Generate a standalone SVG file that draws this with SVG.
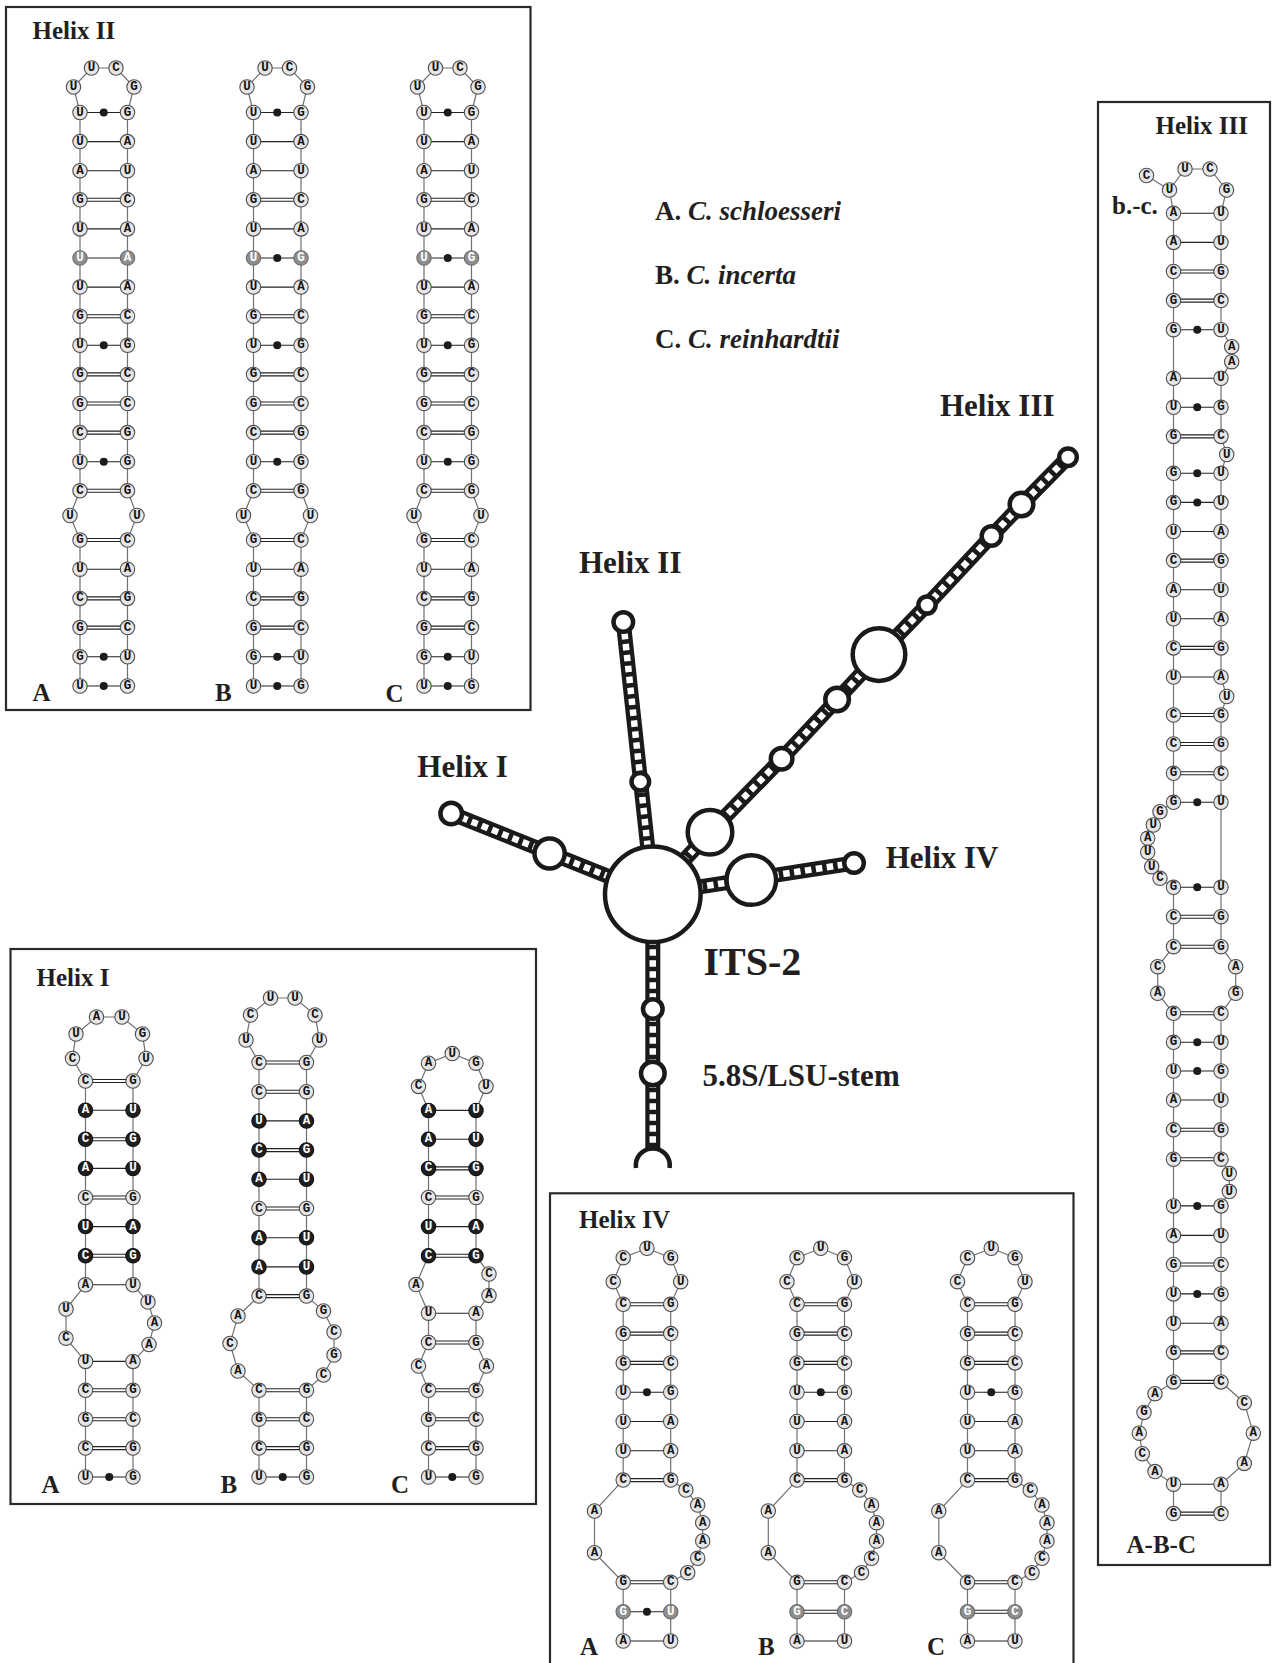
<svg xmlns="http://www.w3.org/2000/svg" width="1287" height="1663" viewBox="0 0 1287 1663">
<style>
.frame{fill:none;stroke:#2a2a2a;stroke-width:2.2}
.lbl{font-family:"Liberation Serif","Times New Roman",serif;font-weight:bold;fill:#231f20}
.f25{font-size:25px}.f31{font-size:31px}.f27{font-size:27px}.f40{font-size:40px}
.it{font-style:italic}
.bb{fill:none;stroke:#707070;stroke-width:1.2}
.bp{fill:none;stroke:#222;stroke-width:1.1}
.nt circle{fill:#e6e6e6;stroke:#4d4d4d;stroke-width:1.1}
.nt text{font-family:"Liberation Mono","Courier New",monospace;font-weight:bold;font-size:12.5px;text-anchor:middle;dominant-baseline:central;fill:#111}
.nt circle.g{fill:#8f8f8f;stroke:#6b6b6b}
.nt text.g{fill:#fff}
.nt circle.k{fill:#1f1f1f;stroke:#111}
.nt text.k{fill:#fff}
.nt .dot{fill:#1c1c1c;stroke:none}
.rail{fill:none;stroke:#1a1a1a;stroke-width:15}
.rung{fill:none;stroke:#fff;stroke-width:6.5;stroke-dasharray:6.5 4.5}
.loop{fill:#fff;stroke:#1a1a1a;stroke-width:4.5}
</style>
<rect width="1287" height="1663" fill="#fff"/>

<!-- ===== Helix II panel ===== -->
<g id="panel-helix2">
<rect class="frame" x="6" y="7" width="524.5" height="703"/>
<text class="lbl f25" x="32.5" y="39">Helix II</text>
<text class="lbl f25" x="32.5" y="701">A</text>
<text class="lbl f25" x="215" y="701">B</text>
<text class="lbl f25" x="385.5" y="701.5">C</text>

<g id="helix2-a" class="nt" transform="translate(80 0)">
<path class="bb" d="M0 686V540L-10 515.5L0 490.8V112.5L-6.5 87L11.5 68H36L54 87L47.5 112.5V490.8L57 515.5L47.5 540V686"/>
<path class="bp" d="M0 112.5H47.5M0 141.6H47.5M0 170.7H47.5M0 228.9H47.5M0 258H47.5M0 287.1H47.5M0 345.3H47.5M0 461.7H47.5M0 569.2H47.5M0 656.8H47.5M0 686H47.5"/>
<path class="bp" d="M0 198.3H47.5M0 201.3H47.5M0 314.7H47.5M0 317.7H47.5M0 372.9H47.5M0 375.9H47.5M0 402H47.5M0 405H47.5M0 431.1H47.5M0 434.1H47.5M0 489.3H47.5M0 492.3H47.5M0 538.5H47.5M0 541.5H47.5M0 596.9H47.5M0 599.9H47.5M0 626.1H47.5M0 629.1H47.5"/>
<circle class="dot" cx="23.75" cy="112.5" r="4"/><circle class="dot" cx="23.75" cy="345.3" r="4"/><circle class="dot" cx="23.75" cy="461.7" r="4"/><circle class="dot" cx="23.75" cy="656.8" r="4"/><circle class="dot" cx="23.75" cy="686" r="4"/>
<circle cx="-6.5" cy="87" r="7.2"/><text x="-6.5" y="87">U</text>
<circle cx="11.5" cy="68" r="7.2"/><text x="11.5" y="68">U</text>
<circle cx="36" cy="68" r="7.2"/><text x="36" y="68">C</text>
<circle cx="54" cy="87" r="7.2"/><text x="54" y="87">G</text>
<circle cx="0" cy="112.5" r="7.2"/><text x="0" y="112.5">U</text><circle cx="47.5" cy="112.5" r="7.2"/><text x="47.5" y="112.5">G</text>
<circle cx="0" cy="141.6" r="7.2"/><text x="0" y="141.6">U</text><circle cx="47.5" cy="141.6" r="7.2"/><text x="47.5" y="141.6">A</text>
<circle cx="0" cy="170.7" r="7.2"/><text x="0" y="170.7">A</text><circle cx="47.5" cy="170.7" r="7.2"/><text x="47.5" y="170.7">U</text>
<circle cx="0" cy="199.8" r="7.2"/><text x="0" y="199.8">G</text><circle cx="47.5" cy="199.8" r="7.2"/><text x="47.5" y="199.8">C</text>
<circle cx="0" cy="228.9" r="7.2"/><text x="0" y="228.9">U</text><circle cx="47.5" cy="228.9" r="7.2"/><text x="47.5" y="228.9">A</text>
<circle class="g" cx="0" cy="258" r="7.2"/><text class="g" x="0" y="258">U</text><circle class="g" cx="47.5" cy="258" r="7.2"/><text class="g" x="47.5" y="258">A</text>
<circle cx="0" cy="287.1" r="7.2"/><text x="0" y="287.1">U</text><circle cx="47.5" cy="287.1" r="7.2"/><text x="47.5" y="287.1">A</text>
<circle cx="0" cy="316.2" r="7.2"/><text x="0" y="316.2">G</text><circle cx="47.5" cy="316.2" r="7.2"/><text x="47.5" y="316.2">C</text>
<circle cx="0" cy="345.3" r="7.2"/><text x="0" y="345.3">U</text><circle cx="47.5" cy="345.3" r="7.2"/><text x="47.5" y="345.3">G</text>
<circle cx="0" cy="374.4" r="7.2"/><text x="0" y="374.4">G</text><circle cx="47.5" cy="374.4" r="7.2"/><text x="47.5" y="374.4">C</text>
<circle cx="0" cy="403.5" r="7.2"/><text x="0" y="403.5">G</text><circle cx="47.5" cy="403.5" r="7.2"/><text x="47.5" y="403.5">C</text>
<circle cx="0" cy="432.6" r="7.2"/><text x="0" y="432.6">C</text><circle cx="47.5" cy="432.6" r="7.2"/><text x="47.5" y="432.6">G</text>
<circle cx="0" cy="461.7" r="7.2"/><text x="0" y="461.7">U</text><circle cx="47.5" cy="461.7" r="7.2"/><text x="47.5" y="461.7">G</text>
<circle cx="0" cy="490.8" r="7.2"/><text x="0" y="490.8">C</text><circle cx="47.5" cy="490.8" r="7.2"/><text x="47.5" y="490.8">G</text>
<circle cx="-10" cy="515.5" r="7.2"/><text x="-10" y="515.5">U</text><circle cx="57" cy="515.5" r="7.2"/><text x="57" y="515.5">U</text>
<circle cx="0" cy="540" r="7.2"/><text x="0" y="540">G</text><circle cx="47.5" cy="540" r="7.2"/><text x="47.5" y="540">C</text>
<circle cx="0" cy="569.2" r="7.2"/><text x="0" y="569.2">U</text><circle cx="47.5" cy="569.2" r="7.2"/><text x="47.5" y="569.2">A</text>
<circle cx="0" cy="598.4" r="7.2"/><text x="0" y="598.4">C</text><circle cx="47.5" cy="598.4" r="7.2"/><text x="47.5" y="598.4">G</text>
<circle cx="0" cy="627.6" r="7.2"/><text x="0" y="627.6">G</text><circle cx="47.5" cy="627.6" r="7.2"/><text x="47.5" y="627.6">C</text>
<circle cx="0" cy="656.8" r="7.2"/><text x="0" y="656.8">G</text><circle cx="47.5" cy="656.8" r="7.2"/><text x="47.5" y="656.8">U</text>
<circle cx="0" cy="686" r="7.2"/><text x="0" y="686">U</text><circle cx="47.5" cy="686" r="7.2"/><text x="47.5" y="686">G</text>
</g>

<g id="helix2-b" class="nt" transform="translate(253.5 0)">
<path class="bb" d="M0 686V540L-10 515.5L0 490.8V112.5L-6.5 87L11.5 68H36L54 87L47.5 112.5V490.8L57 515.5L47.5 540V686"/>
<path class="bp" d="M0 112.5H47.5M0 141.6H47.5M0 170.7H47.5M0 228.9H47.5M0 258H47.5M0 287.1H47.5M0 345.3H47.5M0 461.7H47.5M0 569.2H47.5M0 656.8H47.5M0 686H47.5"/>
<path class="bp" d="M0 198.3H47.5M0 201.3H47.5M0 314.7H47.5M0 317.7H47.5M0 372.9H47.5M0 375.9H47.5M0 402H47.5M0 405H47.5M0 431.1H47.5M0 434.1H47.5M0 489.3H47.5M0 492.3H47.5M0 538.5H47.5M0 541.5H47.5M0 596.9H47.5M0 599.9H47.5M0 626.1H47.5M0 629.1H47.5"/>
<circle class="dot" cx="23.75" cy="112.5" r="4"/><circle class="dot" cx="23.75" cy="258" r="4"/><circle class="dot" cx="23.75" cy="345.3" r="4"/><circle class="dot" cx="23.75" cy="461.7" r="4"/><circle class="dot" cx="23.75" cy="656.8" r="4"/><circle class="dot" cx="23.75" cy="686" r="4"/>
<circle cx="-6.5" cy="87" r="7.2"/><text x="-6.5" y="87">U</text>
<circle cx="11.5" cy="68" r="7.2"/><text x="11.5" y="68">U</text>
<circle cx="36" cy="68" r="7.2"/><text x="36" y="68">C</text>
<circle cx="54" cy="87" r="7.2"/><text x="54" y="87">G</text>
<circle cx="0" cy="112.5" r="7.2"/><text x="0" y="112.5">U</text><circle cx="47.5" cy="112.5" r="7.2"/><text x="47.5" y="112.5">G</text>
<circle cx="0" cy="141.6" r="7.2"/><text x="0" y="141.6">U</text><circle cx="47.5" cy="141.6" r="7.2"/><text x="47.5" y="141.6">A</text>
<circle cx="0" cy="170.7" r="7.2"/><text x="0" y="170.7">A</text><circle cx="47.5" cy="170.7" r="7.2"/><text x="47.5" y="170.7">U</text>
<circle cx="0" cy="199.8" r="7.2"/><text x="0" y="199.8">G</text><circle cx="47.5" cy="199.8" r="7.2"/><text x="47.5" y="199.8">C</text>
<circle cx="0" cy="228.9" r="7.2"/><text x="0" y="228.9">U</text><circle cx="47.5" cy="228.9" r="7.2"/><text x="47.5" y="228.9">A</text>
<circle class="g" cx="0" cy="258" r="7.2"/><text class="g" x="0" y="258">U</text><circle class="g" cx="47.5" cy="258" r="7.2"/><text class="g" x="47.5" y="258">G</text>
<circle cx="0" cy="287.1" r="7.2"/><text x="0" y="287.1">U</text><circle cx="47.5" cy="287.1" r="7.2"/><text x="47.5" y="287.1">A</text>
<circle cx="0" cy="316.2" r="7.2"/><text x="0" y="316.2">G</text><circle cx="47.5" cy="316.2" r="7.2"/><text x="47.5" y="316.2">C</text>
<circle cx="0" cy="345.3" r="7.2"/><text x="0" y="345.3">U</text><circle cx="47.5" cy="345.3" r="7.2"/><text x="47.5" y="345.3">G</text>
<circle cx="0" cy="374.4" r="7.2"/><text x="0" y="374.4">G</text><circle cx="47.5" cy="374.4" r="7.2"/><text x="47.5" y="374.4">C</text>
<circle cx="0" cy="403.5" r="7.2"/><text x="0" y="403.5">G</text><circle cx="47.5" cy="403.5" r="7.2"/><text x="47.5" y="403.5">C</text>
<circle cx="0" cy="432.6" r="7.2"/><text x="0" y="432.6">C</text><circle cx="47.5" cy="432.6" r="7.2"/><text x="47.5" y="432.6">G</text>
<circle cx="0" cy="461.7" r="7.2"/><text x="0" y="461.7">U</text><circle cx="47.5" cy="461.7" r="7.2"/><text x="47.5" y="461.7">G</text>
<circle cx="0" cy="490.8" r="7.2"/><text x="0" y="490.8">C</text><circle cx="47.5" cy="490.8" r="7.2"/><text x="47.5" y="490.8">G</text>
<circle cx="-10" cy="515.5" r="7.2"/><text x="-10" y="515.5">U</text><circle cx="57" cy="515.5" r="7.2"/><text x="57" y="515.5">U</text>
<circle cx="0" cy="540" r="7.2"/><text x="0" y="540">G</text><circle cx="47.5" cy="540" r="7.2"/><text x="47.5" y="540">C</text>
<circle cx="0" cy="569.2" r="7.2"/><text x="0" y="569.2">U</text><circle cx="47.5" cy="569.2" r="7.2"/><text x="47.5" y="569.2">A</text>
<circle cx="0" cy="598.4" r="7.2"/><text x="0" y="598.4">C</text><circle cx="47.5" cy="598.4" r="7.2"/><text x="47.5" y="598.4">G</text>
<circle cx="0" cy="627.6" r="7.2"/><text x="0" y="627.6">G</text><circle cx="47.5" cy="627.6" r="7.2"/><text x="47.5" y="627.6">C</text>
<circle cx="0" cy="656.8" r="7.2"/><text x="0" y="656.8">G</text><circle cx="47.5" cy="656.8" r="7.2"/><text x="47.5" y="656.8">U</text>
<circle cx="0" cy="686" r="7.2"/><text x="0" y="686">U</text><circle cx="47.5" cy="686" r="7.2"/><text x="47.5" y="686">G</text>
</g>

<g id="helix2-c" class="nt" transform="translate(424 0)">
<path class="bb" d="M0 686V540L-10 515.5L0 490.8V112.5L-6.5 87L11.5 68H36L54 87L47.5 112.5V490.8L57 515.5L47.5 540V686"/>
<path class="bp" d="M0 112.5H47.5M0 141.6H47.5M0 170.7H47.5M0 228.9H47.5M0 258H47.5M0 287.1H47.5M0 345.3H47.5M0 461.7H47.5M0 569.2H47.5M0 656.8H47.5M0 686H47.5"/>
<path class="bp" d="M0 198.3H47.5M0 201.3H47.5M0 314.7H47.5M0 317.7H47.5M0 372.9H47.5M0 375.9H47.5M0 402H47.5M0 405H47.5M0 431.1H47.5M0 434.1H47.5M0 489.3H47.5M0 492.3H47.5M0 538.5H47.5M0 541.5H47.5M0 596.9H47.5M0 599.9H47.5M0 626.1H47.5M0 629.1H47.5"/>
<circle class="dot" cx="23.75" cy="112.5" r="4"/><circle class="dot" cx="23.75" cy="258" r="4"/><circle class="dot" cx="23.75" cy="345.3" r="4"/><circle class="dot" cx="23.75" cy="461.7" r="4"/><circle class="dot" cx="23.75" cy="656.8" r="4"/><circle class="dot" cx="23.75" cy="686" r="4"/>
<circle cx="-6.5" cy="87" r="7.2"/><text x="-6.5" y="87">U</text>
<circle cx="11.5" cy="68" r="7.2"/><text x="11.5" y="68">U</text>
<circle cx="36" cy="68" r="7.2"/><text x="36" y="68">C</text>
<circle cx="54" cy="87" r="7.2"/><text x="54" y="87">G</text>
<circle cx="0" cy="112.5" r="7.2"/><text x="0" y="112.5">U</text><circle cx="47.5" cy="112.5" r="7.2"/><text x="47.5" y="112.5">G</text>
<circle cx="0" cy="141.6" r="7.2"/><text x="0" y="141.6">U</text><circle cx="47.5" cy="141.6" r="7.2"/><text x="47.5" y="141.6">A</text>
<circle cx="0" cy="170.7" r="7.2"/><text x="0" y="170.7">A</text><circle cx="47.5" cy="170.7" r="7.2"/><text x="47.5" y="170.7">U</text>
<circle cx="0" cy="199.8" r="7.2"/><text x="0" y="199.8">G</text><circle cx="47.5" cy="199.8" r="7.2"/><text x="47.5" y="199.8">C</text>
<circle cx="0" cy="228.9" r="7.2"/><text x="0" y="228.9">U</text><circle cx="47.5" cy="228.9" r="7.2"/><text x="47.5" y="228.9">A</text>
<circle class="g" cx="0" cy="258" r="7.2"/><text class="g" x="0" y="258">U</text><circle class="g" cx="47.5" cy="258" r="7.2"/><text class="g" x="47.5" y="258">G</text>
<circle cx="0" cy="287.1" r="7.2"/><text x="0" y="287.1">U</text><circle cx="47.5" cy="287.1" r="7.2"/><text x="47.5" y="287.1">A</text>
<circle cx="0" cy="316.2" r="7.2"/><text x="0" y="316.2">G</text><circle cx="47.5" cy="316.2" r="7.2"/><text x="47.5" y="316.2">C</text>
<circle cx="0" cy="345.3" r="7.2"/><text x="0" y="345.3">U</text><circle cx="47.5" cy="345.3" r="7.2"/><text x="47.5" y="345.3">G</text>
<circle cx="0" cy="374.4" r="7.2"/><text x="0" y="374.4">G</text><circle cx="47.5" cy="374.4" r="7.2"/><text x="47.5" y="374.4">C</text>
<circle cx="0" cy="403.5" r="7.2"/><text x="0" y="403.5">G</text><circle cx="47.5" cy="403.5" r="7.2"/><text x="47.5" y="403.5">C</text>
<circle cx="0" cy="432.6" r="7.2"/><text x="0" y="432.6">C</text><circle cx="47.5" cy="432.6" r="7.2"/><text x="47.5" y="432.6">G</text>
<circle cx="0" cy="461.7" r="7.2"/><text x="0" y="461.7">U</text><circle cx="47.5" cy="461.7" r="7.2"/><text x="47.5" y="461.7">G</text>
<circle cx="0" cy="490.8" r="7.2"/><text x="0" y="490.8">C</text><circle cx="47.5" cy="490.8" r="7.2"/><text x="47.5" y="490.8">G</text>
<circle cx="-10" cy="515.5" r="7.2"/><text x="-10" y="515.5">U</text><circle cx="57" cy="515.5" r="7.2"/><text x="57" y="515.5">U</text>
<circle cx="0" cy="540" r="7.2"/><text x="0" y="540">G</text><circle cx="47.5" cy="540" r="7.2"/><text x="47.5" y="540">C</text>
<circle cx="0" cy="569.2" r="7.2"/><text x="0" y="569.2">U</text><circle cx="47.5" cy="569.2" r="7.2"/><text x="47.5" y="569.2">A</text>
<circle cx="0" cy="598.4" r="7.2"/><text x="0" y="598.4">C</text><circle cx="47.5" cy="598.4" r="7.2"/><text x="47.5" y="598.4">G</text>
<circle cx="0" cy="627.6" r="7.2"/><text x="0" y="627.6">G</text><circle cx="47.5" cy="627.6" r="7.2"/><text x="47.5" y="627.6">C</text>
<circle cx="0" cy="656.8" r="7.2"/><text x="0" y="656.8">G</text><circle cx="47.5" cy="656.8" r="7.2"/><text x="47.5" y="656.8">U</text>
<circle cx="0" cy="686" r="7.2"/><text x="0" y="686">U</text><circle cx="47.5" cy="686" r="7.2"/><text x="47.5" y="686">G</text>
</g>
</g>

<!-- ===== Helix I panel ===== -->
<g id="panel-helix1">
<rect class="frame" x="10.5" y="949" width="525.5" height="555"/>
<text class="lbl f25" x="36.5" y="986">Helix I</text>
<text class="lbl f25" x="41.5" y="1493">A</text>
<text class="lbl f25" x="220.5" y="1493">B</text>
<text class="lbl f25" x="391" y="1493">C</text>

<g id="helix1-a" class="nt" transform="translate(85.5 0)">
<path class="bb" d="M0 1477V1361.4L-19.5 1338.2V1309L0 1284.8V1081L-13 1058.5L-9.5 1034L11 1017H36.5L57 1034L60.5 1058.5L47.5 1081V1284.8L62.5 1302L69 1323L63.5 1344.5L47.5 1361.4V1477"/>
<path class="bp" d="M0 1110.2H47.5M0 1168.4H47.5M0 1226.6H47.5M0 1284.8H47.5M0 1361.4H47.5M0 1477H47.5"/>
<path class="bp" d="M0 1079.5H47.5M0 1082.5H47.5M0 1137.8H47.5M0 1140.8H47.5M0 1196H47.5M0 1199H47.5M0 1254.2H47.5M0 1257.2H47.5M0 1388.8H47.5M0 1391.8H47.5M0 1417.7H47.5M0 1420.7H47.5M0 1446.6H47.5M0 1449.6H47.5"/>
<circle class="dot" cx="23.75" cy="1477" r="4"/>
<circle cx="-13" cy="1058.5" r="7.2"/><text x="-13" y="1058.5">C</text>
<circle cx="-9.5" cy="1034" r="7.2"/><text x="-9.5" y="1034">U</text>
<circle cx="11" cy="1017" r="7.2"/><text x="11" y="1017">A</text>
<circle cx="36.5" cy="1017" r="7.2"/><text x="36.5" y="1017">U</text>
<circle cx="57" cy="1034" r="7.2"/><text x="57" y="1034">G</text>
<circle cx="60.5" cy="1058.5" r="7.2"/><text x="60.5" y="1058.5">U</text>
<circle cx="0" cy="1081" r="7.2"/><text x="0" y="1081">C</text><circle cx="47.5" cy="1081" r="7.2"/><text x="47.5" y="1081">G</text>
<circle class="k" cx="0" cy="1110.2" r="7.2"/><text class="k" x="0" y="1110.2">A</text><circle class="k" cx="47.5" cy="1110.2" r="7.2"/><text class="k" x="47.5" y="1110.2">U</text>
<circle class="k" cx="0" cy="1139.3" r="7.2"/><text class="k" x="0" y="1139.3">C</text><circle class="k" cx="47.5" cy="1139.3" r="7.2"/><text class="k" x="47.5" y="1139.3">G</text>
<circle class="k" cx="0" cy="1168.4" r="7.2"/><text class="k" x="0" y="1168.4">A</text><circle class="k" cx="47.5" cy="1168.4" r="7.2"/><text class="k" x="47.5" y="1168.4">U</text>
<circle cx="0" cy="1197.5" r="7.2"/><text x="0" y="1197.5">C</text><circle cx="47.5" cy="1197.5" r="7.2"/><text x="47.5" y="1197.5">G</text>
<circle class="k" cx="0" cy="1226.6" r="7.2"/><text class="k" x="0" y="1226.6">U</text><circle class="k" cx="47.5" cy="1226.6" r="7.2"/><text class="k" x="47.5" y="1226.6">A</text>
<circle class="k" cx="0" cy="1255.7" r="7.2"/><text class="k" x="0" y="1255.7">C</text><circle class="k" cx="47.5" cy="1255.7" r="7.2"/><text class="k" x="47.5" y="1255.7">G</text>
<circle cx="0" cy="1284.8" r="7.2"/><text x="0" y="1284.8">A</text><circle cx="47.5" cy="1284.8" r="7.2"/><text x="47.5" y="1284.8">U</text>
<circle cx="-19.5" cy="1309" r="7.2"/><text x="-19.5" y="1309">U</text>
<circle cx="-19.5" cy="1338.2" r="7.2"/><text x="-19.5" y="1338.2">C</text>
<circle cx="62.5" cy="1302" r="7.2"/><text x="62.5" y="1302">U</text>
<circle cx="69" cy="1323" r="7.2"/><text x="69" y="1323">A</text>
<circle cx="63.5" cy="1344.5" r="7.2"/><text x="63.5" y="1344.5">A</text>
<circle cx="0" cy="1361.4" r="7.2"/><text x="0" y="1361.4">U</text><circle cx="47.5" cy="1361.4" r="7.2"/><text x="47.5" y="1361.4">A</text>
<circle cx="0" cy="1390.3" r="7.2"/><text x="0" y="1390.3">C</text><circle cx="47.5" cy="1390.3" r="7.2"/><text x="47.5" y="1390.3">G</text>
<circle cx="0" cy="1419.2" r="7.2"/><text x="0" y="1419.2">G</text><circle cx="47.5" cy="1419.2" r="7.2"/><text x="47.5" y="1419.2">C</text>
<circle cx="0" cy="1448.1" r="7.2"/><text x="0" y="1448.1">C</text><circle cx="47.5" cy="1448.1" r="7.2"/><text x="47.5" y="1448.1">G</text>
<circle cx="0" cy="1477" r="7.2"/><text x="0" y="1477">U</text><circle cx="47.5" cy="1477" r="7.2"/><text x="47.5" y="1477">G</text>
</g>

<g id="helix1-b" class="nt" transform="translate(259 0)">
<path class="bb" d="M0 1477V1390.3L-21 1371L-29 1343.5L-21 1316L0 1296.1V1062.5L-13 1040L-8.5 1015L11.5 998H36L56 1015L60.5 1040L47.5 1062.5V1296.1L64.5 1311L75 1332V1355L64.5 1375L47.5 1390.3V1477"/>
<path class="bp" d="M0 1120.9H47.5M0 1179.3H47.5M0 1237.7H47.5M0 1266.9H47.5M0 1477H47.5"/>
<path class="bp" d="M0 1061H47.5M0 1064H47.5M0 1090.2H47.5M0 1093.2H47.5M0 1148.6H47.5M0 1151.6H47.5M0 1207H47.5M0 1210H47.5M0 1294.6H47.5M0 1297.6H47.5M0 1388.8H47.5M0 1391.8H47.5M0 1417.7H47.5M0 1420.7H47.5M0 1446.6H47.5M0 1449.6H47.5"/>
<circle class="dot" cx="23.75" cy="1477" r="4"/>
<circle cx="-13" cy="1040" r="7.2"/><text x="-13" y="1040">U</text>
<circle cx="-8.5" cy="1015" r="7.2"/><text x="-8.5" y="1015">C</text>
<circle cx="11.5" cy="998" r="7.2"/><text x="11.5" y="998">U</text>
<circle cx="36" cy="998" r="7.2"/><text x="36" y="998">U</text>
<circle cx="56" cy="1015" r="7.2"/><text x="56" y="1015">C</text>
<circle cx="60.5" cy="1040" r="7.2"/><text x="60.5" y="1040">U</text>
<circle cx="0" cy="1062.5" r="7.2"/><text x="0" y="1062.5">C</text><circle cx="47.5" cy="1062.5" r="7.2"/><text x="47.5" y="1062.5">G</text>
<circle cx="0" cy="1091.7" r="7.2"/><text x="0" y="1091.7">C</text><circle cx="47.5" cy="1091.7" r="7.2"/><text x="47.5" y="1091.7">G</text>
<circle class="k" cx="0" cy="1120.9" r="7.2"/><text class="k" x="0" y="1120.9">U</text><circle class="k" cx="47.5" cy="1120.9" r="7.2"/><text class="k" x="47.5" y="1120.9">A</text>
<circle class="k" cx="0" cy="1150.1" r="7.2"/><text class="k" x="0" y="1150.1">C</text><circle class="k" cx="47.5" cy="1150.1" r="7.2"/><text class="k" x="47.5" y="1150.1">G</text>
<circle class="k" cx="0" cy="1179.3" r="7.2"/><text class="k" x="0" y="1179.3">A</text><circle class="k" cx="47.5" cy="1179.3" r="7.2"/><text class="k" x="47.5" y="1179.3">U</text>
<circle cx="0" cy="1208.5" r="7.2"/><text x="0" y="1208.5">C</text><circle cx="47.5" cy="1208.5" r="7.2"/><text x="47.5" y="1208.5">G</text>
<circle class="k" cx="0" cy="1237.7" r="7.2"/><text class="k" x="0" y="1237.7">A</text><circle class="k" cx="47.5" cy="1237.7" r="7.2"/><text class="k" x="47.5" y="1237.7">U</text>
<circle class="k" cx="0" cy="1266.9" r="7.2"/><text class="k" x="0" y="1266.9">A</text><circle class="k" cx="47.5" cy="1266.9" r="7.2"/><text class="k" x="47.5" y="1266.9">U</text>
<circle cx="0" cy="1296.1" r="7.2"/><text x="0" y="1296.1">C</text><circle cx="47.5" cy="1296.1" r="7.2"/><text x="47.5" y="1296.1">G</text>
<circle cx="-21" cy="1316" r="7.2"/><text x="-21" y="1316">A</text>
<circle cx="-29" cy="1343.5" r="7.2"/><text x="-29" y="1343.5">C</text>
<circle cx="-21" cy="1371" r="7.2"/><text x="-21" y="1371">A</text>
<circle cx="64.5" cy="1311" r="7.2"/><text x="64.5" y="1311">G</text>
<circle cx="75" cy="1332" r="7.2"/><text x="75" y="1332">C</text>
<circle cx="75" cy="1355" r="7.2"/><text x="75" y="1355">G</text>
<circle cx="64.5" cy="1375" r="7.2"/><text x="64.5" y="1375">C</text>
<circle cx="0" cy="1390.3" r="7.2"/><text x="0" y="1390.3">C</text><circle cx="47.5" cy="1390.3" r="7.2"/><text x="47.5" y="1390.3">G</text>
<circle cx="0" cy="1419.2" r="7.2"/><text x="0" y="1419.2">G</text><circle cx="47.5" cy="1419.2" r="7.2"/><text x="47.5" y="1419.2">C</text>
<circle cx="0" cy="1448.1" r="7.2"/><text x="0" y="1448.1">C</text><circle cx="47.5" cy="1448.1" r="7.2"/><text x="47.5" y="1448.1">G</text>
<circle cx="0" cy="1477" r="7.2"/><text x="0" y="1477">U</text><circle cx="47.5" cy="1477" r="7.2"/><text x="47.5" y="1477">G</text>
</g>

<g id="helix1-c" class="nt" transform="translate(428.5 0)">
<path class="bb" d="M0 1477V1390.3L-10 1366L0 1342.5V1313.2L-12.5 1284.6L0 1255.7V1110.4L-10 1086.4L0 1063.2L23.75 1053.6L47.5 1063.2L57.5 1086.4L47.5 1110.4V1255.7L60.5 1274V1295.4L47.5 1313.2V1342.5L58 1366L47.5 1390.3V1477"/>
<path class="bp" d="M0 1110.4H47.5M0 1139.3H47.5M0 1226.6H47.5M0 1313.2H47.5M0 1477H47.5"/>
<path class="bp" d="M0 1166.9H47.5M0 1169.9H47.5M0 1196H47.5M0 1199H47.5M0 1254.2H47.5M0 1257.2H47.5M0 1341H47.5M0 1344H47.5M0 1388.8H47.5M0 1391.8H47.5M0 1417.7H47.5M0 1420.7H47.5M0 1446.6H47.5M0 1449.6H47.5"/>
<circle class="dot" cx="23.75" cy="1477" r="4"/>
<circle cx="-10" cy="1086.4" r="7.2"/><text x="-10" y="1086.4">C</text>
<circle cx="0" cy="1063.2" r="7.2"/><text x="0" y="1063.2">A</text>
<circle cx="23.75" cy="1053.6" r="7.2"/><text x="23.75" y="1053.6">U</text>
<circle cx="47.5" cy="1063.2" r="7.2"/><text x="47.5" y="1063.2">G</text>
<circle cx="57.5" cy="1086.4" r="7.2"/><text x="57.5" y="1086.4">U</text>
<circle class="k" cx="0" cy="1110.4" r="7.2"/><text class="k" x="0" y="1110.4">A</text><circle class="k" cx="47.5" cy="1110.4" r="7.2"/><text class="k" x="47.5" y="1110.4">U</text>
<circle class="k" cx="0" cy="1139.3" r="7.2"/><text class="k" x="0" y="1139.3">A</text><circle class="k" cx="47.5" cy="1139.3" r="7.2"/><text class="k" x="47.5" y="1139.3">U</text>
<circle class="k" cx="0" cy="1168.4" r="7.2"/><text class="k" x="0" y="1168.4">C</text><circle class="k" cx="47.5" cy="1168.4" r="7.2"/><text class="k" x="47.5" y="1168.4">G</text>
<circle cx="0" cy="1197.5" r="7.2"/><text x="0" y="1197.5">C</text><circle cx="47.5" cy="1197.5" r="7.2"/><text x="47.5" y="1197.5">G</text>
<circle class="k" cx="0" cy="1226.6" r="7.2"/><text class="k" x="0" y="1226.6">U</text><circle class="k" cx="47.5" cy="1226.6" r="7.2"/><text class="k" x="47.5" y="1226.6">A</text>
<circle class="k" cx="0" cy="1255.7" r="7.2"/><text class="k" x="0" y="1255.7">C</text><circle class="k" cx="47.5" cy="1255.7" r="7.2"/><text class="k" x="47.5" y="1255.7">G</text>
<circle cx="-12.5" cy="1284.6" r="7.2"/><text x="-12.5" y="1284.6">A</text>
<circle cx="60.5" cy="1274" r="7.2"/><text x="60.5" y="1274">C</text>
<circle cx="60.5" cy="1295.4" r="7.2"/><text x="60.5" y="1295.4">A</text>
<circle cx="0" cy="1313.2" r="7.2"/><text x="0" y="1313.2">U</text><circle cx="47.5" cy="1313.2" r="7.2"/><text x="47.5" y="1313.2">A</text>
<circle cx="0" cy="1342.5" r="7.2"/><text x="0" y="1342.5">C</text><circle cx="47.5" cy="1342.5" r="7.2"/><text x="47.5" y="1342.5">G</text>
<circle cx="-10" cy="1366" r="7.2"/><text x="-10" y="1366">C</text><circle cx="58" cy="1366" r="7.2"/><text x="58" y="1366">A</text>
<circle cx="0" cy="1390.3" r="7.2"/><text x="0" y="1390.3">C</text><circle cx="47.5" cy="1390.3" r="7.2"/><text x="47.5" y="1390.3">G</text>
<circle cx="0" cy="1419.2" r="7.2"/><text x="0" y="1419.2">G</text><circle cx="47.5" cy="1419.2" r="7.2"/><text x="47.5" y="1419.2">C</text>
<circle cx="0" cy="1448.1" r="7.2"/><text x="0" y="1448.1">C</text><circle cx="47.5" cy="1448.1" r="7.2"/><text x="47.5" y="1448.1">G</text>
<circle cx="0" cy="1477" r="7.2"/><text x="0" y="1477">U</text><circle cx="47.5" cy="1477" r="7.2"/><text x="47.5" y="1477">G</text>
</g>
</g>

<!-- ===== Helix IV panel ===== -->
<g id="panel-helix4">
<rect class="frame" x="550" y="1193.3" width="523.5" height="500"/>
<text class="lbl f25" x="579" y="1228">Helix IV</text>
<text class="lbl f25" x="580" y="1655">A</text>
<text class="lbl f25" x="758" y="1655">B</text>
<text class="lbl f25" x="927" y="1655">C</text>

<g id="helix4-a" class="nt" transform="translate(623.2 0)">
<path class="bb" d="M0 1641V1582.3L-28.7 1552.7V1511L0 1480.1V1304.3L-10 1281.7L0 1257.7L23.75 1248.3L47.5 1257.7L57.5 1281.7L47.5 1304.3V1480.1L62.7 1490L74.5 1505L79.5 1522.7V1541L74.5 1558.3L64.5 1572.7L47.5 1582.3V1641"/>
<path class="bp" d="M0 1392.2H47.5M0 1421.5H47.5M0 1450.8H47.5M0 1611.7H47.5M0 1641H47.5"/>
<path class="bp" d="M0 1302.8H47.5M0 1305.8H47.5M0 1332.1H47.5M0 1335.1H47.5M0 1361.4H47.5M0 1364.4H47.5M0 1478.6H47.5M0 1481.6H47.5M0 1580.8H47.5M0 1583.8H47.5"/>
<circle class="dot" cx="23.75" cy="1392.2" r="4"/><circle class="dot" cx="23.75" cy="1611.7" r="4"/>
<circle cx="-10" cy="1281.7" r="7.2"/><text x="-10" y="1281.7">C</text>
<circle cx="0" cy="1257.7" r="7.2"/><text x="0" y="1257.7">C</text>
<circle cx="23.75" cy="1248.3" r="7.2"/><text x="23.75" y="1248.3">U</text>
<circle cx="47.5" cy="1257.7" r="7.2"/><text x="47.5" y="1257.7">G</text>
<circle cx="57.5" cy="1281.7" r="7.2"/><text x="57.5" y="1281.7">U</text>
<circle cx="0" cy="1304.3" r="7.2"/><text x="0" y="1304.3">C</text><circle cx="47.5" cy="1304.3" r="7.2"/><text x="47.5" y="1304.3">G</text>
<circle cx="0" cy="1333.6" r="7.2"/><text x="0" y="1333.6">G</text><circle cx="47.5" cy="1333.6" r="7.2"/><text x="47.5" y="1333.6">C</text>
<circle cx="0" cy="1362.9" r="7.2"/><text x="0" y="1362.9">G</text><circle cx="47.5" cy="1362.9" r="7.2"/><text x="47.5" y="1362.9">C</text>
<circle cx="0" cy="1392.2" r="7.2"/><text x="0" y="1392.2">U</text><circle cx="47.5" cy="1392.2" r="7.2"/><text x="47.5" y="1392.2">G</text>
<circle cx="0" cy="1421.5" r="7.2"/><text x="0" y="1421.5">U</text><circle cx="47.5" cy="1421.5" r="7.2"/><text x="47.5" y="1421.5">A</text>
<circle cx="0" cy="1450.8" r="7.2"/><text x="0" y="1450.8">U</text><circle cx="47.5" cy="1450.8" r="7.2"/><text x="47.5" y="1450.8">A</text>
<circle cx="0" cy="1480.1" r="7.2"/><text x="0" y="1480.1">C</text><circle cx="47.5" cy="1480.1" r="7.2"/><text x="47.5" y="1480.1">G</text>
<circle cx="-28.7" cy="1511" r="7.2"/><text x="-28.7" y="1511">A</text>
<circle cx="-28.7" cy="1552.7" r="7.2"/><text x="-28.7" y="1552.7">A</text>
<circle cx="62.7" cy="1490" r="7.2"/><text x="62.7" y="1490">C</text>
<circle cx="74.5" cy="1505" r="7.2"/><text x="74.5" y="1505">A</text>
<circle cx="79.5" cy="1522.7" r="7.2"/><text x="79.5" y="1522.7">A</text>
<circle cx="79.5" cy="1541" r="7.2"/><text x="79.5" y="1541">A</text>
<circle cx="74.5" cy="1558.3" r="7.2"/><text x="74.5" y="1558.3">C</text>
<circle cx="64.5" cy="1572.7" r="7.2"/><text x="64.5" y="1572.7">C</text>
<circle cx="0" cy="1582.3" r="7.2"/><text x="0" y="1582.3">G</text><circle cx="47.5" cy="1582.3" r="7.2"/><text x="47.5" y="1582.3">C</text>
<circle class="g" cx="0" cy="1611.7" r="7.2"/><text class="g" x="0" y="1611.7">G</text><circle class="g" cx="47.5" cy="1611.7" r="7.2"/><text class="g" x="47.5" y="1611.7">U</text>
<circle cx="0" cy="1641" r="7.2"/><text x="0" y="1641">A</text><circle cx="47.5" cy="1641" r="7.2"/><text x="47.5" y="1641">U</text>
</g>

<g id="helix4-b" class="nt" transform="translate(797 0)">
<path class="bb" d="M0 1641V1582.3L-28.7 1552.7V1511L0 1480.1V1304.3L-10 1281.7L0 1257.7L23.75 1248.3L47.5 1257.7L57.5 1281.7L47.5 1304.3V1480.1L62.7 1490L74.5 1505L79.5 1522.7V1541L74.5 1558.3L64.5 1572.7L47.5 1582.3V1641"/>
<path class="bp" d="M0 1392.2H47.5M0 1421.5H47.5M0 1450.8H47.5M0 1641H47.5"/>
<path class="bp" d="M0 1302.8H47.5M0 1305.8H47.5M0 1332.1H47.5M0 1335.1H47.5M0 1361.4H47.5M0 1364.4H47.5M0 1478.6H47.5M0 1481.6H47.5M0 1580.8H47.5M0 1583.8H47.5M0 1610.2H47.5M0 1613.2H47.5"/>
<circle class="dot" cx="23.75" cy="1392.2" r="4"/>
<circle cx="-10" cy="1281.7" r="7.2"/><text x="-10" y="1281.7">C</text>
<circle cx="0" cy="1257.7" r="7.2"/><text x="0" y="1257.7">C</text>
<circle cx="23.75" cy="1248.3" r="7.2"/><text x="23.75" y="1248.3">U</text>
<circle cx="47.5" cy="1257.7" r="7.2"/><text x="47.5" y="1257.7">G</text>
<circle cx="57.5" cy="1281.7" r="7.2"/><text x="57.5" y="1281.7">U</text>
<circle cx="0" cy="1304.3" r="7.2"/><text x="0" y="1304.3">C</text><circle cx="47.5" cy="1304.3" r="7.2"/><text x="47.5" y="1304.3">G</text>
<circle cx="0" cy="1333.6" r="7.2"/><text x="0" y="1333.6">G</text><circle cx="47.5" cy="1333.6" r="7.2"/><text x="47.5" y="1333.6">C</text>
<circle cx="0" cy="1362.9" r="7.2"/><text x="0" y="1362.9">G</text><circle cx="47.5" cy="1362.9" r="7.2"/><text x="47.5" y="1362.9">C</text>
<circle cx="0" cy="1392.2" r="7.2"/><text x="0" y="1392.2">U</text><circle cx="47.5" cy="1392.2" r="7.2"/><text x="47.5" y="1392.2">G</text>
<circle cx="0" cy="1421.5" r="7.2"/><text x="0" y="1421.5">U</text><circle cx="47.5" cy="1421.5" r="7.2"/><text x="47.5" y="1421.5">A</text>
<circle cx="0" cy="1450.8" r="7.2"/><text x="0" y="1450.8">U</text><circle cx="47.5" cy="1450.8" r="7.2"/><text x="47.5" y="1450.8">A</text>
<circle cx="0" cy="1480.1" r="7.2"/><text x="0" y="1480.1">C</text><circle cx="47.5" cy="1480.1" r="7.2"/><text x="47.5" y="1480.1">G</text>
<circle cx="-28.7" cy="1511" r="7.2"/><text x="-28.7" y="1511">A</text>
<circle cx="-28.7" cy="1552.7" r="7.2"/><text x="-28.7" y="1552.7">A</text>
<circle cx="62.7" cy="1490" r="7.2"/><text x="62.7" y="1490">C</text>
<circle cx="74.5" cy="1505" r="7.2"/><text x="74.5" y="1505">A</text>
<circle cx="79.5" cy="1522.7" r="7.2"/><text x="79.5" y="1522.7">A</text>
<circle cx="79.5" cy="1541" r="7.2"/><text x="79.5" y="1541">A</text>
<circle cx="74.5" cy="1558.3" r="7.2"/><text x="74.5" y="1558.3">C</text>
<circle cx="64.5" cy="1572.7" r="7.2"/><text x="64.5" y="1572.7">C</text>
<circle cx="0" cy="1582.3" r="7.2"/><text x="0" y="1582.3">G</text><circle cx="47.5" cy="1582.3" r="7.2"/><text x="47.5" y="1582.3">C</text>
<circle class="g" cx="0" cy="1611.7" r="7.2"/><text class="g" x="0" y="1611.7">G</text><circle class="g" cx="47.5" cy="1611.7" r="7.2"/><text class="g" x="47.5" y="1611.7">C</text>
<circle cx="0" cy="1641" r="7.2"/><text x="0" y="1641">A</text><circle cx="47.5" cy="1641" r="7.2"/><text x="47.5" y="1641">U</text>
</g>

<g id="helix4-c" class="nt" transform="translate(967.5 0)">
<path class="bb" d="M0 1641V1582.3L-28.7 1552.7V1511L0 1480.1V1304.3L-10 1281.7L0 1257.7L23.75 1248.3L47.5 1257.7L57.5 1281.7L47.5 1304.3V1480.1L62.7 1490L74.5 1505L79.5 1522.7V1541L74.5 1558.3L64.5 1572.7L47.5 1582.3V1641"/>
<path class="bp" d="M0 1392.2H47.5M0 1421.5H47.5M0 1450.8H47.5M0 1641H47.5"/>
<path class="bp" d="M0 1302.8H47.5M0 1305.8H47.5M0 1332.1H47.5M0 1335.1H47.5M0 1361.4H47.5M0 1364.4H47.5M0 1478.6H47.5M0 1481.6H47.5M0 1580.8H47.5M0 1583.8H47.5M0 1610.2H47.5M0 1613.2H47.5"/>
<circle class="dot" cx="23.75" cy="1392.2" r="4"/>
<circle cx="-10" cy="1281.7" r="7.2"/><text x="-10" y="1281.7">C</text>
<circle cx="0" cy="1257.7" r="7.2"/><text x="0" y="1257.7">C</text>
<circle cx="23.75" cy="1248.3" r="7.2"/><text x="23.75" y="1248.3">U</text>
<circle cx="47.5" cy="1257.7" r="7.2"/><text x="47.5" y="1257.7">G</text>
<circle cx="57.5" cy="1281.7" r="7.2"/><text x="57.5" y="1281.7">U</text>
<circle cx="0" cy="1304.3" r="7.2"/><text x="0" y="1304.3">C</text><circle cx="47.5" cy="1304.3" r="7.2"/><text x="47.5" y="1304.3">G</text>
<circle cx="0" cy="1333.6" r="7.2"/><text x="0" y="1333.6">G</text><circle cx="47.5" cy="1333.6" r="7.2"/><text x="47.5" y="1333.6">C</text>
<circle cx="0" cy="1362.9" r="7.2"/><text x="0" y="1362.9">G</text><circle cx="47.5" cy="1362.9" r="7.2"/><text x="47.5" y="1362.9">C</text>
<circle cx="0" cy="1392.2" r="7.2"/><text x="0" y="1392.2">U</text><circle cx="47.5" cy="1392.2" r="7.2"/><text x="47.5" y="1392.2">G</text>
<circle cx="0" cy="1421.5" r="7.2"/><text x="0" y="1421.5">U</text><circle cx="47.5" cy="1421.5" r="7.2"/><text x="47.5" y="1421.5">A</text>
<circle cx="0" cy="1450.8" r="7.2"/><text x="0" y="1450.8">U</text><circle cx="47.5" cy="1450.8" r="7.2"/><text x="47.5" y="1450.8">A</text>
<circle cx="0" cy="1480.1" r="7.2"/><text x="0" y="1480.1">C</text><circle cx="47.5" cy="1480.1" r="7.2"/><text x="47.5" y="1480.1">G</text>
<circle cx="-28.7" cy="1511" r="7.2"/><text x="-28.7" y="1511">A</text>
<circle cx="-28.7" cy="1552.7" r="7.2"/><text x="-28.7" y="1552.7">A</text>
<circle cx="62.7" cy="1490" r="7.2"/><text x="62.7" y="1490">C</text>
<circle cx="74.5" cy="1505" r="7.2"/><text x="74.5" y="1505">A</text>
<circle cx="79.5" cy="1522.7" r="7.2"/><text x="79.5" y="1522.7">A</text>
<circle cx="79.5" cy="1541" r="7.2"/><text x="79.5" y="1541">A</text>
<circle cx="74.5" cy="1558.3" r="7.2"/><text x="74.5" y="1558.3">C</text>
<circle cx="64.5" cy="1572.7" r="7.2"/><text x="64.5" y="1572.7">C</text>
<circle cx="0" cy="1582.3" r="7.2"/><text x="0" y="1582.3">G</text><circle cx="47.5" cy="1582.3" r="7.2"/><text x="47.5" y="1582.3">C</text>
<circle class="g" cx="0" cy="1611.7" r="7.2"/><text class="g" x="0" y="1611.7">G</text><circle class="g" cx="47.5" cy="1611.7" r="7.2"/><text class="g" x="47.5" y="1611.7">C</text>
<circle cx="0" cy="1641" r="7.2"/><text x="0" y="1641">A</text><circle cx="47.5" cy="1641" r="7.2"/><text x="47.5" y="1641">U</text>
</g>
</g>

<!-- ===== Helix III panel ===== -->
<g id="panel-helix3">
<rect class="frame" x="1098" y="102" width="172" height="1463"/>
<text class="lbl f25" x="1155.5" y="134">Helix III</text>
<text class="lbl f25" x="1112" y="214">b.-c.</text>
<text class="lbl f25" x="1126.5" y="1553">A-B-C</text>

<g id="helix3-abc" class="nt" transform="translate(1173.5 0)">
<path class="bb" d="M0 1513.6V1484.2L-18.5 1471.6L-31.2 1453.7L-34.2 1433.2L-29.5 1412.4L-18.5 1393.7L0 1381.9V1013.3L-15.8 993.3V966.7L0 946.7V887.3L-13.5 878.3L-21.8 866.7L-25.8 852.3V838.3L-20.2 825L-13.5 811.7L0 802.3V213.3L-4 190L11.5 169H36.5L53 190L47.5 213.3V329.7L58.2 346.7V361.7L47.5 378.3V436.4L53.2 454.5L47.5 473.3V677L53.2 696.5L47.5 715V946.7L62.2 966.7V993.3L47.5 1013.3V1159.2L55.8 1173.6V1191.6L47.5 1205.9V1381.9L70.8 1402.7L79.8 1433.2L70.8 1463.4L47.5 1484.2V1513.6M-4 190L-27 175.5"/>
<path class="bp" d="M0 213.3H47.5M0 242.4H47.5M0 329.7H47.5M0 378.3H47.5M0 407.3H47.5M0 473.3H47.5M0 502.4H47.5M0 531.5H47.5M0 589.7H47.5M0 618.8H47.5M0 677H47.5M0 802.3H47.5M0 887.3H47.5M0 1042.3H47.5M0 1071H47.5M0 1100H47.5M0 1205.9H47.5M0 1235.4H47.5M0 1293.9H47.5M0 1323.3H47.5M0 1484.2H47.5"/>
<path class="bp" d="M0 270H47.5M0 273H47.5M0 299.1H47.5M0 302.1H47.5M0 434.9H47.5M0 437.9H47.5M0 559.1H47.5M0 562.1H47.5M0 646.4H47.5M0 649.4H47.5M0 713.5H47.5M0 716.5H47.5M0 742.5H47.5M0 745.5H47.5M0 771.8H47.5M0 774.8H47.5M0 915.2H47.5M0 918.2H47.5M0 945.2H47.5M0 948.2H47.5M0 1011.8H47.5M0 1014.8H47.5M0 1128.3H47.5M0 1131.3H47.5M0 1157.7H47.5M0 1160.7H47.5M0 1263H47.5M0 1266H47.5M0 1350.9H47.5M0 1353.9H47.5M0 1380.4H47.5M0 1383.4H47.5M0 1512.1H47.5M0 1515.1H47.5"/>
<circle class="dot" cx="23.75" cy="329.7" r="4"/><circle class="dot" cx="23.75" cy="407.3" r="4"/><circle class="dot" cx="23.75" cy="473.3" r="4"/><circle class="dot" cx="23.75" cy="502.4" r="4"/><circle class="dot" cx="23.75" cy="802.3" r="4"/><circle class="dot" cx="23.75" cy="887.3" r="4"/><circle class="dot" cx="23.75" cy="1042.3" r="4"/><circle class="dot" cx="23.75" cy="1071" r="4"/><circle class="dot" cx="23.75" cy="1205.9" r="4"/><circle class="dot" cx="23.75" cy="1293.9" r="4"/>
<circle cx="-27" cy="175.5" r="7.2"/><text x="-27" y="175.5">C</text>
<circle cx="-4" cy="190" r="7.2"/><text x="-4" y="190">U</text>
<circle cx="11.5" cy="169" r="7.2"/><text x="11.5" y="169">U</text>
<circle cx="36.5" cy="169" r="7.2"/><text x="36.5" y="169">C</text>
<circle cx="53" cy="190" r="7.2"/><text x="53" y="190">G</text>
<circle cx="0" cy="213.3" r="7.2"/><text x="0" y="213.3">A</text><circle cx="47.5" cy="213.3" r="7.2"/><text x="47.5" y="213.3">U</text>
<circle cx="0" cy="242.4" r="7.2"/><text x="0" y="242.4">A</text><circle cx="47.5" cy="242.4" r="7.2"/><text x="47.5" y="242.4">U</text>
<circle cx="0" cy="271.5" r="7.2"/><text x="0" y="271.5">C</text><circle cx="47.5" cy="271.5" r="7.2"/><text x="47.5" y="271.5">G</text>
<circle cx="0" cy="300.6" r="7.2"/><text x="0" y="300.6">G</text><circle cx="47.5" cy="300.6" r="7.2"/><text x="47.5" y="300.6">C</text>
<circle cx="0" cy="329.7" r="7.2"/><text x="0" y="329.7">G</text><circle cx="47.5" cy="329.7" r="7.2"/><text x="47.5" y="329.7">U</text>
<circle cx="58.2" cy="346.7" r="7.2"/><text x="58.2" y="346.7">A</text>
<circle cx="58.2" cy="361.7" r="7.2"/><text x="58.2" y="361.7">A</text>
<circle cx="0" cy="378.3" r="7.2"/><text x="0" y="378.3">A</text><circle cx="47.5" cy="378.3" r="7.2"/><text x="47.5" y="378.3">U</text>
<circle cx="0" cy="407.3" r="7.2"/><text x="0" y="407.3">U</text><circle cx="47.5" cy="407.3" r="7.2"/><text x="47.5" y="407.3">G</text>
<circle cx="0" cy="436.4" r="7.2"/><text x="0" y="436.4">G</text><circle cx="47.5" cy="436.4" r="7.2"/><text x="47.5" y="436.4">C</text>
<circle cx="53.2" cy="454.5" r="7.2"/><text x="53.2" y="454.5">U</text>
<circle cx="0" cy="473.3" r="7.2"/><text x="0" y="473.3">G</text><circle cx="47.5" cy="473.3" r="7.2"/><text x="47.5" y="473.3">U</text>
<circle cx="0" cy="502.4" r="7.2"/><text x="0" y="502.4">G</text><circle cx="47.5" cy="502.4" r="7.2"/><text x="47.5" y="502.4">U</text>
<circle cx="0" cy="531.5" r="7.2"/><text x="0" y="531.5">U</text><circle cx="47.5" cy="531.5" r="7.2"/><text x="47.5" y="531.5">A</text>
<circle cx="0" cy="560.6" r="7.2"/><text x="0" y="560.6">C</text><circle cx="47.5" cy="560.6" r="7.2"/><text x="47.5" y="560.6">G</text>
<circle cx="0" cy="589.7" r="7.2"/><text x="0" y="589.7">A</text><circle cx="47.5" cy="589.7" r="7.2"/><text x="47.5" y="589.7">U</text>
<circle cx="0" cy="618.8" r="7.2"/><text x="0" y="618.8">U</text><circle cx="47.5" cy="618.8" r="7.2"/><text x="47.5" y="618.8">A</text>
<circle cx="0" cy="647.9" r="7.2"/><text x="0" y="647.9">C</text><circle cx="47.5" cy="647.9" r="7.2"/><text x="47.5" y="647.9">G</text>
<circle cx="0" cy="677" r="7.2"/><text x="0" y="677">U</text><circle cx="47.5" cy="677" r="7.2"/><text x="47.5" y="677">A</text>
<circle cx="53.2" cy="696.5" r="7.2"/><text x="53.2" y="696.5">U</text>
<circle cx="0" cy="715" r="7.2"/><text x="0" y="715">C</text><circle cx="47.5" cy="715" r="7.2"/><text x="47.5" y="715">G</text>
<circle cx="0" cy="744" r="7.2"/><text x="0" y="744">C</text><circle cx="47.5" cy="744" r="7.2"/><text x="47.5" y="744">G</text>
<circle cx="0" cy="773.3" r="7.2"/><text x="0" y="773.3">G</text><circle cx="47.5" cy="773.3" r="7.2"/><text x="47.5" y="773.3">C</text>
<circle cx="0" cy="802.3" r="7.2"/><text x="0" y="802.3">G</text><circle cx="47.5" cy="802.3" r="7.2"/><text x="47.5" y="802.3">U</text>
<circle cx="-13.5" cy="811.7" r="7.2"/><text x="-13.5" y="811.7">G</text>
<circle cx="-20.2" cy="825" r="7.2"/><text x="-20.2" y="825">U</text>
<circle cx="-25.8" cy="838.3" r="7.2"/><text x="-25.8" y="838.3">A</text>
<circle cx="-25.8" cy="852.3" r="7.2"/><text x="-25.8" y="852.3">U</text>
<circle cx="-21.8" cy="866.7" r="7.2"/><text x="-21.8" y="866.7">U</text>
<circle cx="-13.5" cy="878.3" r="7.2"/><text x="-13.5" y="878.3">C</text>
<circle cx="0" cy="887.3" r="7.2"/><text x="0" y="887.3">G</text><circle cx="47.5" cy="887.3" r="7.2"/><text x="47.5" y="887.3">U</text>
<circle cx="0" cy="916.7" r="7.2"/><text x="0" y="916.7">C</text><circle cx="47.5" cy="916.7" r="7.2"/><text x="47.5" y="916.7">G</text>
<circle cx="0" cy="946.7" r="7.2"/><text x="0" y="946.7">C</text><circle cx="47.5" cy="946.7" r="7.2"/><text x="47.5" y="946.7">G</text>
<circle cx="-15.8" cy="966.7" r="7.2"/><text x="-15.8" y="966.7">C</text><circle cx="62.2" cy="966.7" r="7.2"/><text x="62.2" y="966.7">A</text>
<circle cx="-15.8" cy="993.3" r="7.2"/><text x="-15.8" y="993.3">A</text><circle cx="62.2" cy="993.3" r="7.2"/><text x="62.2" y="993.3">G</text>
<circle cx="0" cy="1013.3" r="7.2"/><text x="0" y="1013.3">G</text><circle cx="47.5" cy="1013.3" r="7.2"/><text x="47.5" y="1013.3">C</text>
<circle cx="0" cy="1042.3" r="7.2"/><text x="0" y="1042.3">G</text><circle cx="47.5" cy="1042.3" r="7.2"/><text x="47.5" y="1042.3">U</text>
<circle cx="0" cy="1071" r="7.2"/><text x="0" y="1071">U</text><circle cx="47.5" cy="1071" r="7.2"/><text x="47.5" y="1071">G</text>
<circle cx="0" cy="1100" r="7.2"/><text x="0" y="1100">A</text><circle cx="47.5" cy="1100" r="7.2"/><text x="47.5" y="1100">U</text>
<circle cx="0" cy="1129.8" r="7.2"/><text x="0" y="1129.8">C</text><circle cx="47.5" cy="1129.8" r="7.2"/><text x="47.5" y="1129.8">G</text>
<circle cx="0" cy="1159.2" r="7.2"/><text x="0" y="1159.2">G</text><circle cx="47.5" cy="1159.2" r="7.2"/><text x="47.5" y="1159.2">C</text>
<circle cx="55.8" cy="1173.6" r="7.2"/><text x="55.8" y="1173.6">U</text>
<circle cx="55.8" cy="1191.6" r="7.2"/><text x="55.8" y="1191.6">U</text>
<circle cx="0" cy="1205.9" r="7.2"/><text x="0" y="1205.9">U</text><circle cx="47.5" cy="1205.9" r="7.2"/><text x="47.5" y="1205.9">G</text>
<circle cx="0" cy="1235.4" r="7.2"/><text x="0" y="1235.4">A</text><circle cx="47.5" cy="1235.4" r="7.2"/><text x="47.5" y="1235.4">U</text>
<circle cx="0" cy="1264.5" r="7.2"/><text x="0" y="1264.5">G</text><circle cx="47.5" cy="1264.5" r="7.2"/><text x="47.5" y="1264.5">C</text>
<circle cx="0" cy="1293.9" r="7.2"/><text x="0" y="1293.9">U</text><circle cx="47.5" cy="1293.9" r="7.2"/><text x="47.5" y="1293.9">G</text>
<circle cx="0" cy="1323.3" r="7.2"/><text x="0" y="1323.3">U</text><circle cx="47.5" cy="1323.3" r="7.2"/><text x="47.5" y="1323.3">A</text>
<circle cx="0" cy="1352.4" r="7.2"/><text x="0" y="1352.4">G</text><circle cx="47.5" cy="1352.4" r="7.2"/><text x="47.5" y="1352.4">C</text>
<circle cx="0" cy="1381.9" r="7.2"/><text x="0" y="1381.9">G</text><circle cx="47.5" cy="1381.9" r="7.2"/><text x="47.5" y="1381.9">C</text>
<circle cx="-18.5" cy="1393.7" r="7.2"/><text x="-18.5" y="1393.7">A</text>
<circle cx="-29.5" cy="1412.4" r="7.2"/><text x="-29.5" y="1412.4">G</text>
<circle cx="-34.2" cy="1433.2" r="7.2"/><text x="-34.2" y="1433.2">A</text>
<circle cx="-31.2" cy="1453.7" r="7.2"/><text x="-31.2" y="1453.7">C</text>
<circle cx="-18.5" cy="1471.6" r="7.2"/><text x="-18.5" y="1471.6">A</text>
<circle cx="70.8" cy="1402.7" r="7.2"/><text x="70.8" y="1402.7">C</text>
<circle cx="79.8" cy="1433.2" r="7.2"/><text x="79.8" y="1433.2">A</text>
<circle cx="70.8" cy="1463.4" r="7.2"/><text x="70.8" y="1463.4">A</text>
<circle cx="0" cy="1484.2" r="7.2"/><text x="0" y="1484.2">U</text><circle cx="47.5" cy="1484.2" r="7.2"/><text x="47.5" y="1484.2">A</text>
<circle cx="0" cy="1513.6" r="7.2"/><text x="0" y="1513.6">G</text><circle cx="47.5" cy="1513.6" r="7.2"/><text x="47.5" y="1513.6">C</text>
</g>
</g>

<!-- ===== species legend ===== -->
<g id="legend">
<text class="lbl f27" x="655" y="219.5">A. <tspan class="it">C. schloesseri</tspan></text>
<text class="lbl f27" x="655" y="284">B. <tspan class="it">C. incerta</tspan></text>
<text class="lbl f27" x="655" y="348">C. <tspan class="it">C. reinhardtii</tspan></text>
</g>

<!-- ===== ITS-2 overview: stems as ladders, loops as circles ===== -->
<g id="its2-overview">
<g id="stems">
<path class="rail" d="M451.2 813.5L652.8 894.2"/><path class="rung" d="M451.2 813.5L652.8 894.2"/>
<path class="rail" d="M623.3 622L652.8 894.2"/><path class="rung" d="M623.3 622L652.8 894.2"/>
<path class="rail" d="M652.8 894.2L710 832.2L781.6 758.8L837.1 699.5L879 654.6L927 605L991.5 536L1021.5 504.5L1068 457.2"/><path class="rung" d="M652.8 894.2L710 832.2L781.6 758.8L837.1 699.5L879 654.6L927 605L991.5 536L1021.5 504.5L1068 457.2"/>
<path class="rail" d="M652.8 894.2L854 863"/><path class="rung" d="M652.8 894.2L854 863"/>
<path class="rail" d="M652.8 894.2V1150"/><path class="rung" d="M652.8 894.2V1150"/>
</g>
<g id="loops">
<circle class="loop" cx="451.2" cy="813.5" r="10.8"/>
<circle class="loop" cx="549.6" cy="853.5" r="15.1"/>
<circle class="loop" cx="623.3" cy="622" r="9.8"/>
<circle class="loop" cx="640.3" cy="781.7" r="8.8"/>
<circle class="loop" cx="710" cy="832.2" r="22.3"/>
<circle class="loop" cx="781.6" cy="758.8" r="10.8"/>
<circle class="loop" cx="837.1" cy="699.5" r="11.8"/>
<circle class="loop" cx="879" cy="654.6" r="26.3"/>
<circle class="loop" cx="927" cy="605" r="8.6"/>
<circle class="loop" cx="991.5" cy="536" r="9.8"/>
<circle class="loop" cx="1021.5" cy="504.5" r="11.8"/>
<circle class="loop" cx="1068" cy="457.2" r="8.8"/>
<circle class="loop" cx="751.3" cy="880" r="24.8"/>
<circle class="loop" cx="854" cy="863" r="9.8"/>
<circle class="loop" cx="652.8" cy="1009" r="9.8"/>
<circle class="loop" cx="652.8" cy="1073.5" r="11.8"/>
<path class="loop" d="M636 1168A17 17 0 1 1 669.6 1168"/>
<circle id="central-loop" class="loop" cx="652.8" cy="894.2" r="47.8"/>
</g>
<text class="lbl f31" x="417.3" y="777">Helix I</text>
<text class="lbl f31" x="579" y="573">Helix II</text>
<text class="lbl f31" x="940" y="415.5">Helix III</text>
<text class="lbl f31" x="885.7" y="868">Helix IV</text>
<text class="lbl f40" x="703.5" y="974.5">ITS-2</text>
<text class="lbl f31" x="702.5" y="1086">5.8S/LSU-stem</text>
</g>
</svg>
